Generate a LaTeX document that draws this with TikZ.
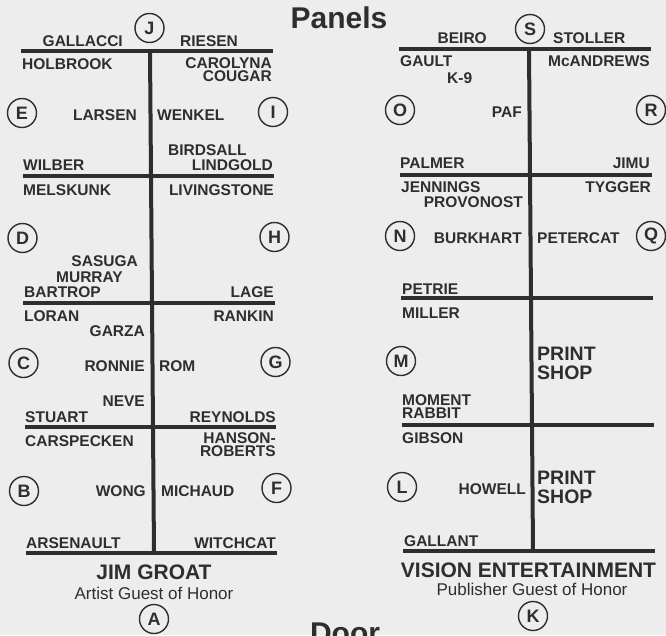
\documentclass[tikz,border=0pt]{standalone}
\usepackage{fontspec}
\setmainfont{Liberation Sans}
\definecolor{ink}{HTML}{2E2E2E}
\definecolor{paper}{HTML}{EDEDED}
\begin{document}
\begin{tikzpicture}[x=1pt,y=-1pt,
 nm/.style={inner sep=0, font=\fontsize{15.5}{13}\selectfont\bfseries, text=ink},
 big/.style={inner sep=0, font=\fontsize{21}{21}\selectfont\bfseries, text=ink},
 sub/.style={inner sep=0, font=\fontsize{17}{17}\selectfont, text=ink},
 ps/.style={inner sep=0, font=\fontsize{19.5}{19}\selectfont\bfseries, text=ink},
 ttl/.style={inner sep=0, font=\fontsize{30}{30}\selectfont\bfseries, text=ink},
 lt/.style={circle, draw=ink, line width=1.4pt, minimum size=29pt, inner sep=0, font=\fontsize{18}{18}\selectfont\bfseries, text=ink},
 wall/.style={line width=4pt, draw=ink}]
\useasboundingbox (0,0) rectangle (666,635);
\fill[paper] (0,0) rectangle (666,635);
\begin{scope}
\clip (0,0) rectangle (666,635);
% titles
\node[ttl, anchor=base] (panels) at (339,28) {Panels};
\node[ttl, anchor=base] (door) at (345,643.5) {Door};

% ---------- left block ----------
\draw[wall] (21,51) -- (273,51);
\draw[wall] (23,176) -- (274,176);
\draw[wall] (23,303) -- (275,303);
\draw[wall] (25,427) -- (276,427);
\draw[wall] (26,553) -- (277,553);
\draw[wall] (150,51) -- (154,553);

\node[lt] (J) at (149.5,28) {J};
\node[lt] (E) at (22,113) {E};
\node[lt] (I) at (273,112) {I};
\node[lt] (D) at (22.5,238) {D};
\node[lt] (H) at (274.5,237) {H};
\node[lt] (C) at (23.5,363) {C};
\node[lt] (G) at (275.5,362) {G};
\node[lt] (B) at (24,491) {B};
\node[lt] (F) at (276.5,488) {F};
\node[lt] (A) at (154,619) {A};

\node[nm, anchor=base east] (gallacci) at (123,46) {GALLACCI};
\node[nm, anchor=base west] (riesen) at (180,46) {RIESEN};
\node[nm, anchor=base west] (holbrook) at (22,69) {HOLBROOK};
\node[nm, anchor=north east, align=right] (carolyna) at (272,57.7) {CAROLYNA\\COUGAR};
\node[nm, anchor=base east] (larsen) at (137,120) {LARSEN};
\node[nm, anchor=base west] (wenkel) at (157,120) {WENKEL};
\node[nm, anchor=base west] (birdsall) at (168,155) {BIRDSALL};
\node[nm, anchor=base east] (lindgold) at (273,170) {LINDGOLD};
\node[nm, anchor=base west] (wilber) at (23,170) {WILBER};
\node[nm, anchor=base west] (melskunk) at (23,195) {MELSKUNK};
\node[nm, anchor=base east] (livingstone) at (274,195) {LIVINGSTONE};
\node[nm, anchor=base east] (sasuga) at (138,266) {SASUGA};
\node[nm, anchor=base east] (murray) at (123,282) {MURRAY};
\node[nm, anchor=base west] (bartrop) at (24,297) {BARTROP};
\node[nm, anchor=base east] (lage) at (274,297) {LAGE};
\node[nm, anchor=base west] (loran) at (24,321) {LORAN};
\node[nm, anchor=base east] (rankin) at (274,321) {RANKIN};
\node[nm, anchor=base east] (garza) at (145,336) {GARZA};
\node[nm, anchor=base east] (ronnie) at (145,371) {RONNIE};
\node[nm, anchor=base west] (rom) at (159,371) {ROM};
\node[nm, anchor=base east] (neve) at (145,406) {NEVE};
\node[nm, anchor=base west] (stuart) at (25,422) {STUART};
\node[nm, anchor=base east] (reynolds) at (276,422) {REYNOLDS};
\node[nm, anchor=base west] (carspecken) at (25,446) {CARSPECKEN};
\node[nm, anchor=north east, align=right] (hanson) at (276,432.7) {HANSON-\\ROBERTS};
\node[nm, anchor=base east] (wong) at (146,496) {WONG};
\node[nm, anchor=base west] (michaud) at (161,496) {MICHAUD};
\node[nm, anchor=base west] (arsenault) at (26,548) {ARSENAULT};
\node[nm, anchor=base east] (witchcat) at (276,548) {WITCHCAT};
\node[big, anchor=base] (groat) at (154,579) {JIM GROAT};
\node[sub, anchor=base] (artist) at (154,599) {Artist Guest of Honor};

% ---------- right block ----------
\draw[wall] (399,49) -- (651,49);
\draw[wall] (400,175) -- (652,175);
\draw[wall] (401,298) -- (653,298);
\draw[wall] (402,425) -- (654,425);
\draw[wall] (403,551) -- (655,551);
\draw[wall] (529,49) -- (533,551);

\node[lt] (S) at (530,29) {S};
\node[lt] (O) at (400,110) {O};
\node[lt] (R) at (651,110) {R};
\node[lt] (N) at (400,236) {N};
\node[lt] (Q) at (651,236) {Q};
\node[lt] (M) at (401,361) {M};
\node[lt] (L) at (402,487) {L};
\node[lt] (K) at (533,616) {K};

\node[nm, anchor=base east] (beiro) at (487,43) {BEIRO};
\node[nm, anchor=base west] (stoller) at (553,43) {STOLLER};
\node[nm, anchor=base west] (gault) at (400,66) {GAULT};
\node[nm, anchor=base east] (mcandrews) at (650,66) {McANDREWS};
\node[nm, anchor=base west] (k9) at (447,83) {K-9};
\node[nm, anchor=base east] (paf) at (522,117) {PAF};
\node[nm, anchor=base west] (palmer) at (400,168) {PALMER};
\node[nm, anchor=base east] (jimu) at (650,168) {JIMU};
\node[nm, anchor=base west] (jennings) at (401,192) {JENNINGS};
\node[nm, anchor=base east] (tygger) at (651,192) {TYGGER};
\node[nm, anchor=base east] (provonost) at (523,207) {PROVONOST};
\node[nm, anchor=base east] (burkhart) at (522,243) {BURKHART};
\node[nm, anchor=base west] (petercat) at (537,243) {PETERCAT};
\node[nm, anchor=base west] (petrie) at (402,294) {PETRIE};
\node[nm, anchor=base west] (miller) at (402,318) {MILLER};
\node[ps, anchor=base west] (printa) at (537,360) {PRINT};
\node[ps, anchor=base west] (shopa) at (537,379) {SHOP};
\node[nm, anchor=north west, align=left] (moment) at (402,394.7) {MOMENT\\RABBIT};
\node[nm, anchor=base west] (gibson) at (402,443) {GIBSON};
\node[nm, anchor=base east] (howell) at (526,494) {HOWELL};
\node[ps, anchor=base west] (printb) at (537,484) {PRINT};
\node[ps, anchor=base west] (shopb) at (537,503) {SHOP};
\node[nm, anchor=base west] (gallant) at (404,546) {GALLANT};
\node[big, anchor=base] (vision) at (528.5,577) {VISION ENTERTAINMENT};
\node[sub, anchor=base] (publisher) at (532,595) {Publisher Guest of Honor};
\end{scope}
\end{tikzpicture}
\end{document}
